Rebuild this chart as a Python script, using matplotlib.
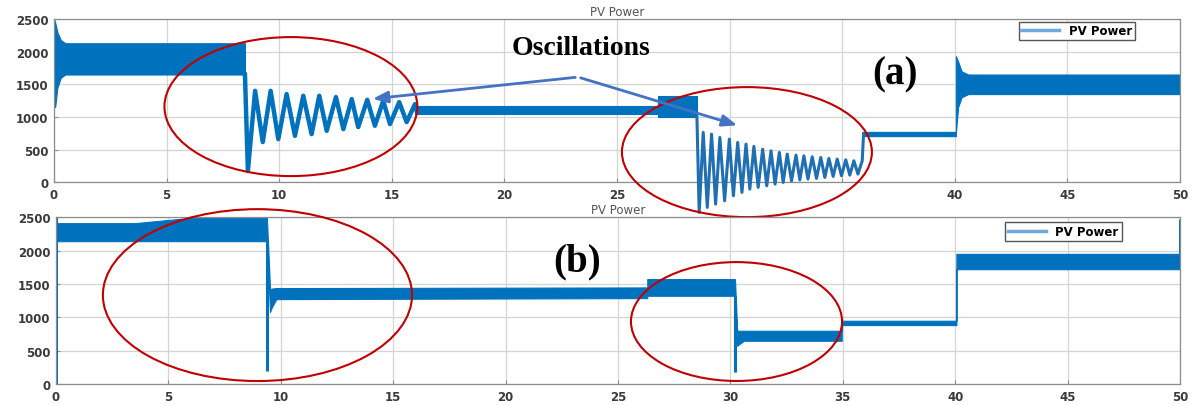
import matplotlib
matplotlib.use("Agg")
import matplotlib.pyplot as plt
from matplotlib.patches import Ellipse

# ---- (a) PV power, noisy bands (time, lower edge, upper edge)
a_band1_t = [0.0, 0.05, 0.15, 0.3, 0.5, 8.48]
a_band1_lo = [1200, 1150, 1450, 1600, 1650, 1650]
a_band1_hi = [2500, 2450, 2300, 2180, 2130, 2130]

a_band2_t = [16.05, 26.8, 26.8, 28.55]
a_band2_lo = [1045, 1045, 1000, 1000]
a_band2_hi = [1170, 1170, 1320, 1320]

a_band3_t = [35.9, 40.05, 40.05, 40.15, 40.3, 40.6, 50.0]
a_band3_lo = [705, 705, 760, 1150, 1300, 1350, 1350]
a_band3_hi = [770, 770, 1930, 1850, 1700, 1650, 1650]

# oscillation after first step (extrema)
a_osc1_t = [8.48, 8.61, 8.93, 9.27, 9.62, 9.96, 10.33, 10.70, 11.07, 11.44,
            11.78, 12.11, 12.52, 12.85, 13.22, 13.51, 13.91, 14.25, 14.62,
            14.92, 15.33, 15.66, 16.03, 16.1]
a_osc1_v = [1650, 170, 1400, 614, 1400, 660, 1350, 710, 1324, 736,
            1324, 787, 1304, 813, 1273, 844, 1262, 864, 1247,
            890, 1227, 920, 1196, 1100]

# oscillation after second step
a_osc2_peak_t = [28.83, 29.20, 29.57, 29.99, 30.36, 30.73, 31.08, 31.47, 31.84,
                 32.21, 32.56, 32.95, 33.30, 33.67, 34.05, 34.41, 34.78, 35.16,
                 35.52, 35.89]
a_osc2_peak_v = [762, 736, 685, 660, 609, 583, 548, 506, 480, 455, 430, 414,
                 403, 388, 378, 363, 353, 342, 327, 327]
a_osc2_trough_t = [28.65, 29.01, 29.38, 29.78, 30.17, 30.55, 30.90, 31.27, 31.65,
                   32.02, 32.38, 32.75, 33.12, 33.48, 33.86, 34.23, 34.60, 34.97,
                   35.34, 35.70]
a_osc2_trough_v = [-465, -388, -337, -287, -210, -158, -107, -81, -57, -31, -5,
                   20, 35, 46, 57, 72, 87, 97, 107, 123]

# ---- (b) PV power
b_band_t = [0.02, 3.5, 6.0, 9.38, 9.38, 9.52, 9.6, 9.8, 26.3, 26.3, 30.2, 30.2,
            30.3, 30.4, 30.6, 34.95, 34.95, 40.05, 40.05, 50.0]
b_band_lo = [2140, 2140, 2140, 2140, 2140, 1080, 1150, 1272, 1287, 1322, 1322, 1322,
             573, 600, 648, 648, 883, 883, 1720, 1720]
b_band_hi = [2410, 2410, 2490, 2490, 2490, 1420, 1430, 1437, 1447, 1572, 1572, 1572,
             798, 798, 798, 798, 948, 948, 1950, 1950]
b_spike_t = [0.0, 9.38, 30.2, 50.0]
b_spike_lo = [0, 200, 180, 1950]
b_spike_hi = [2500, 2140, 1322, 2470]

xticks = [0, 5, 10, 15, 20, 25, 30, 35, 40, 45, 50]
yticks = [0, 500, 1000, 1500, 2000, 2500]

blue = "#0072BD"
red = "#C00000"
arrow_blue = "#4472C4"
tick_col = "#3a3a3a"

fig = plt.figure(figsize=(11.92, 4.06), dpi=100)
ax1 = fig.add_axes([0.0453, 0.549, 0.9446, 0.4015])
ax2 = fig.add_axes([0.047, 0.0517, 0.943, 0.411])


def style(ax):
    ax.set_xlim(0, 50)
    ax.set_ylim(0, 2500)
    ax.set_xticks(xticks)
    ax.set_yticks(yticks)
    ax.grid(True, color="#d4d4d4", lw=0.9)
    ax.set_axisbelow(True)
    for s in ax.spines.values():
        s.set_color("#8c8c8c")
        s.set_linewidth(0.9)
    ax.tick_params(direction="in", length=3, colors="#8c8c8c",
                   labelcolor=tick_col, labelsize=8.5, pad=4)
    for lab in ax.get_xticklabels() + ax.get_yticklabels():
        lab.set_fontweight("bold")
    ax.set_title("PV Power", fontsize=8.5, color="#555555", pad=3)


style(ax1)
style(ax2)

# top panel
ax1.fill_between(a_band1_t, a_band1_lo, a_band1_hi, color=blue, lw=0.8, edgecolor=blue)
ax1.fill_between(a_band2_t, a_band2_lo, a_band2_hi, color=blue, lw=0.8, edgecolor=blue)
ax1.fill_between(a_band3_t, a_band3_lo, a_band3_hi, color=blue, lw=0.8, edgecolor=blue)
ax1.plot(a_osc1_t, a_osc1_v, color=blue, lw=3.2, solid_joinstyle="round")

osc2_t, osc2_v = [28.55], [1000]
for tt, tv, pt, pv in zip(a_osc2_trough_t, a_osc2_trough_v, a_osc2_peak_t, a_osc2_peak_v):
    osc2_t += [tt, pt]
    osc2_v += [tv, pv]
osc2_t.append(35.95)
osc2_v.append(740)
ax1.plot(osc2_t, osc2_v, color="#1f6fb2", lw=2.2, clip_on=False, zorder=3)
ax1.set_xticklabels(["" if v in (30, 35) else str(v) for v in xticks])
ax1.plot([], [], color="#6fa8dc", lw=2.5, label="PV Power")
ax1.legend(loc="upper right", bbox_to_anchor=(0.96, 0.985), borderaxespad=0,
           fancybox=False, edgecolor="#555555", fontsize=8.5, handlelength=3.2,
           prop={"weight": "bold", "size": 8.5}, borderpad=0.25, framealpha=1)

# bottom panel
ax2.fill_between(b_band_t, b_band_lo, b_band_hi, color=blue, lw=0.8, edgecolor=blue)
ax2.vlines(b_spike_t, b_spike_lo, b_spike_hi, color=blue, lw=2.2)
ax2.plot([], [], color="#6fa8dc", lw=2.5, label="PV Power")
ax2.legend(loc="upper right", bbox_to_anchor=(0.948, 0.97), borderaxespad=0,
           fancybox=False, edgecolor="#555555", handlelength=3.2,
           prop={"weight": "bold", "size": 8.5}, borderpad=0.25, framealpha=1)

# ellipses
ax1.add_patch(Ellipse((10.52, 1158), 11.23, 2132, fill=False, ec=red, lw=1.5, clip_on=False, zorder=5))
ax1.add_patch(Ellipse((30.77, 460), 11.1, 1994, fill=False, ec=red, lw=1.5, clip_on=False, zorder=5))
ax2.add_patch(Ellipse((8.96, 1332), 13.75, 2575, fill=False, ec=red, lw=1.5, clip_on=False, zorder=5))
ax2.add_patch(Ellipse((30.27, 936), 9.39, 1781, fill=False, ec=red, lw=1.5, clip_on=False, zorder=5))

# annotations
ax1.text(23.4, 2071, "Oscillations", ha="center", va="center", fontsize=20,
         fontweight="bold", family="Liberation Serif", zorder=6)
ax1.annotate("", xy=(14.03, 1273), xytext=(23.27, 1611),
             arrowprops=dict(arrowstyle="-|>,head_length=0.9,head_width=0.35",
                             color=arrow_blue, lw=2), zorder=6)
ax1.annotate("", xy=(30.46, 859), xytext=(23.27, 1611),
             arrowprops=dict(arrowstyle="-|>,head_length=0.9,head_width=0.35",
                             color=arrow_blue, lw=2), zorder=6)
ax1.text(37.35, 1657, "(a)", ha="center", va="center", fontsize=28,
         fontweight="bold", family="Liberation Serif", zorder=6)
ax2.text(23.2, 1841, "(b)", ha="center", va="center", fontsize=28,
         fontweight="bold", family="Liberation Serif", zorder=6)

fig.savefig("out.png", dpi=100)
